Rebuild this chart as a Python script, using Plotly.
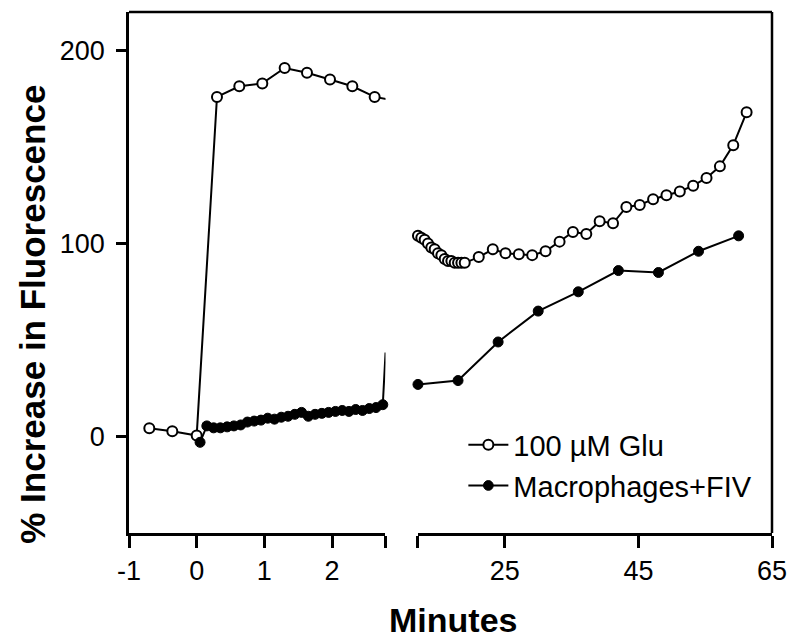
import plotly.graph_objects as go

# ---- data ----
glu_x = [-0.7, -0.36, 0.0, 0.3, 0.63, 0.97, 1.3, 1.63, 1.97, 2.3, 2.63,
         12.0, 12.5, 13.0, 13.5, 14.0, 14.5, 15.0, 15.5, 16.0, 16.5, 17.0, 17.5, 18.0, 18.5,
         19.0, 21.1, 23.2, 25.1, 27.1, 29.1, 31.1, 33.2, 35.2, 37.2, 39.2, 41.2, 43.2, 45.2,
         47.2, 49.2, 51.2, 53.2, 55.2, 57.2, 59.2, 61.2]
glu_y = [4.3, 2.7, 0.5, 176, 181.5, 183, 191, 188.5, 185, 181.5, 176,
         104, 103, 102, 100, 98, 97, 95, 94, 92, 91, 91, 90, 90, 90,
         90, 93, 97, 95, 94.5, 94, 96, 101, 106, 105, 111.5, 110.5, 119, 120,
         123, 125, 127, 130, 134, 140, 151, 168]

fiv_x = [0.05, 0.15, 0.25, 0.35, 0.45, 0.55, 0.65, 0.75, 0.85, 0.95, 1.05, 1.15, 1.25,
         1.35, 1.45, 1.55, 1.65, 1.75, 1.85, 1.95, 2.05, 2.15, 2.25, 2.35, 2.45, 2.55,
         2.65, 2.75, 2.79,
         12, 18, 24, 30, 36, 42, 48, 54, 60]
fiv_y = [-3, 5.5, 4.5, 4.5, 5, 5.5, 6, 7.5, 8, 8.5, 9.5, 9, 10,
         10.5, 11.5, 12.5, 10.5, 11.5, 12, 12.5, 13, 13.5, 13, 14, 13.5, 14.5,
         15, 16.5, 43,
         27, 29, 49, 65, 75, 86, 85, 96, 104]
fiv_marker_sizes = [10] * 28 + [0] + [10] * 9

y_ticks = [0, 100, 200]
left_ticks = [-1, 0, 1, 2, 2.79]
left_ticktext = ["-1", "0", "1", "2", ""]
right_ticks = [12, 25, 45, 65]
right_ticktext = ["", "25", "45", "65"]

FONT = "Liberation Sans, Arial, Helvetica, sans-serif"

fig = go.Figure()

for xa, show in (("x", True), ("x2", False)):
    fig.add_trace(go.Scatter(
        x=glu_x, y=glu_y, xaxis=xa, yaxis="y", mode="lines+markers",
        name="100 µM Glu", showlegend=show, legendrank=1, cliponaxis=False,
        line=dict(color="black", width=2),
        marker=dict(symbol="circle", size=10, color="white", opacity=1,
                    line=dict(color="black", width=2)),
    ))
    fig.add_trace(go.Scatter(
        x=fiv_x, y=fiv_y, xaxis=xa, yaxis="y", mode="lines+markers",
        name="Macrophages+FIV", showlegend=show, legendrank=2, cliponaxis=False,
        line=dict(color="black", width=2),
        marker=dict(symbol="circle", size=fiv_marker_sizes, color="black", opacity=1,
                    line=dict(color="black", width=1)),
    ))

axis_common = dict(showline=True, linecolor="black", linewidth=2.5, ticks="outside",
                   ticklen=12, tickwidth=2.5, tickcolor="black", showgrid=False,
                   zeroline=False, tickfont=dict(family=FONT, size=27, color="black"))

# page body has an 8px margin, so the figure is 792x636 placed at (8, 8)
fig.update_layout(
    width=792, height=636,
    margin=dict(l=121, r=28, t=4, b=111),
    paper_bgcolor="white", plot_bgcolor="white",
    xaxis=dict(domain=[0, 0.3989], range=[-1, 2.79], tickmode="array",
               tickvals=left_ticks, ticktext=left_ticktext, anchor="y", **axis_common),
    xaxis2=dict(domain=[0.4494, 1], range=[12, 65], tickmode="array",
                tickvals=right_ticks, ticktext=right_ticktext, anchor="y", **axis_common),
    yaxis=dict(range=[-50, 220], tickmode="array", tickvals=y_ticks,
               ticklabelstandoff=6, **{**axis_common, "ticklen": 10}),
    showlegend=True,
    legend=dict(x=0.52, y=0.218, xanchor="left", yanchor="top",
                bgcolor="rgba(0,0,0,0)", tracegroupgap=0,
                font=dict(family=FONT, size=29, color="black"),
                itemwidth=40),
    shapes=[
        dict(type="line", xref="paper", yref="paper", x0=0, x1=1, y0=1, y1=1,
             line=dict(color="black", width=2.5)),
        dict(type="line", xref="paper", yref="paper", x0=1, x1=1, y0=0, y1=1,
             line=dict(color="black", width=2.5)),
    ],
    annotations=[
        dict(text="<b>% Increase in Fluorescence</b>", xref="paper", yref="paper",
             x=-0.15, y=0.42, textangle=-90, showarrow=False, xanchor="center",
             yanchor="middle", font=dict(family=FONT, size=35, color="black")),
        dict(text="<b>Minutes</b>", xref="paper", yref="paper",
             x=0.504, y=-0.167, showarrow=False, xanchor="center", yanchor="middle",
             font=dict(family=FONT, size=34, color="black")),
    ],
)

fig.write_html("out.html")
